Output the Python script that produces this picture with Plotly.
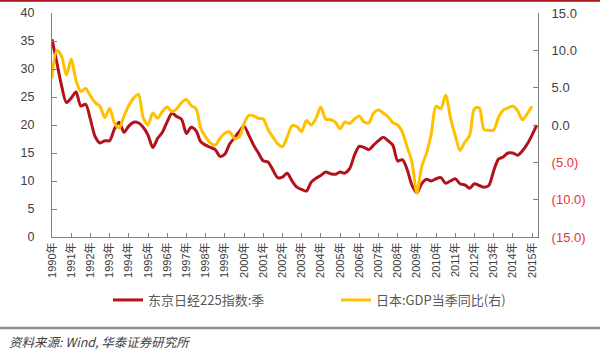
import plotly.graph_objects as go

# ---- data ----
years = list(range(1990, 2016))
year_labels = [f"{y}年" for y in years]

# quarterly positions: 1990Q1 .. 2015Q2 (Nikkei), 1990Q1 .. 2015Q1 (GDP)
nikkei = [
    35.3, 31.2, 27.0, 24.0,
    24.8, 25.9, 23.4, 23.7,
    21.0, 17.9, 16.8, 17.2,
    17.2, 19.3, 20.5, 18.7,
    19.8, 20.5, 20.4, 19.6,
    18.2, 16.0, 17.6, 18.7,
    20.6, 22.1, 21.5, 21.0,
    18.5, 19.6, 19.0, 17.0,
    16.4, 16.0, 15.6, 14.4,
    14.8, 16.6, 17.7, 18.8,
    19.8, 18.2, 16.4, 15.0,
    13.6, 13.4, 12.0, 10.6,
    10.7, 11.4, 10.0, 8.9,
    8.5, 8.2, 9.8, 10.5,
    11.0, 11.6, 11.3, 11.2,
    11.6, 11.4, 12.2, 14.6,
    16.2, 16.0, 15.6, 16.4,
    17.2, 17.8, 17.2, 16.4,
    13.6, 13.8, 12.0, 9.2,
    7.9, 9.5, 10.3, 10.0,
    10.4, 10.6, 9.6, 10.0,
    10.4, 9.5, 9.3, 8.7,
    9.5, 9.2, 8.9, 9.2,
    11.8, 13.9, 14.3, 15.0,
    15.0, 14.6, 15.4, 16.6,
    18.2, 20.0,
]
gdp = [
    6.3, 10.0, 9.2, 6.7,
    8.8, 6.0, 4.5, 4.9,
    3.9, 3.0, 2.5, 1.0,
    2.2, 0.3, -0.4, 1.2,
    2.6, 3.6, 4.1, 1.0,
    0.0, 1.6, 0.9, 1.8,
    2.4, 1.8, 2.2, 3.0,
    3.4, 2.6, 2.2, -0.5,
    -1.6, -2.4, -2.7, -1.8,
    -1.1, -0.9, -1.8, -1.6,
    0.2, 1.3, 1.2, 0.9,
    0.8, -0.6, -1.6, -2.5,
    -2.9, -1.6, -0.1, -0.2,
    -0.9, 0.6, 0.0, 0.9,
    2.4, 0.8, 0.7, 0.4,
    -0.5, 0.4, 0.2, 0.8,
    1.2, 0.4, 0.3, 1.6,
    2.0, 1.6, 1.1, 0.3,
    0.0, -1.0, -3.0, -5.0,
    -9.1, -5.6, -3.8, -1.2,
    2.5, 2.2, 4.0, 1.0,
    -1.4, -3.4, -2.3, -1.4,
    2.2, 2.3, -0.6, -0.7,
    -0.7, 1.0, 2.0, 2.3,
    2.5, 1.9, 0.7, 1.5,
    2.5,
]
x_nikkei = [1990 + i * 0.25 for i in range(len(nikkei))]
x_gdp = [1990 + i * 0.25 for i in range(len(gdp))]

right_vals = [-15, -10, -5, 0, 5, 10, 15]
right_text = ['<span style="color:#E8323A">(15.0)</span>',
              '<span style="color:#E8323A">(10.0)</span>',
              '<span style="color:#E8323A">(5.0)</span>',
              '0.0', '5.0', '10.0', '15.0']

RED = "#B3121B"
GOLD = "#FFC000"
FONT = "Liberation Sans, Arial, Noto Sans CJK SC"

fig = go.Figure()
fig.add_trace(go.Scatter(x=x_nikkei, y=nikkei, mode="lines", name="东京日经225指数:季",
                         line=dict(color=RED, width=3, shape="spline", smoothing=0.8),
                         yaxis="y"))
fig.add_trace(go.Scatter(x=x_gdp, y=gdp, mode="lines", name="日本:GDP当季同比(右)",
                         line=dict(color=GOLD, width=3, shape="spline", smoothing=0.8),
                         yaxis="y2"))

W, H = 600, 358
L, R, T, B = 52, 62, 13, 121
pw = W - L - R
ph = H - T - B

fig.update_layout(
    width=W, height=H,
    margin=dict(l=L, r=R, t=T, b=B, pad=0, autoexpand=False),
    paper_bgcolor="white", plot_bgcolor="white",
    font=dict(family=FONT, size=12, color="#404040"),
    showlegend=True,
    legend=dict(orientation="h", x=(108 - L) / pw, xanchor="left",
                y=(H - B - 300) / ph, yanchor="middle",
                font=dict(family="Noto Sans CJK SC, Liberation Sans", size=13, color="#595959"),
                entrywidth=183, entrywidthmode="pixels",
                bgcolor="rgba(0,0,0,0)"),
    xaxis=dict(range=[1990, 2015.31], tickvals=years, ticktext=year_labels,
               tickangle=-90, ticks="inside", ticklen=4, tickcolor="#808080",
               showline=True, linecolor="#808080", linewidth=1,
               showgrid=False, zeroline=False, automargin=False,
               tickfont=dict(size=11, color="#404040", family=FONT)),
    yaxis=dict(range=[0, 40], dtick=5, tick0=0, ticks="inside", ticklen=5,
               tickcolor="#808080", showline=True, linecolor="#808080", linewidth=1,
               showgrid=False, zeroline=False, ticklabelstandoff=14, automargin=False,
               tickfont=dict(size=12.5, color="#404040", family=FONT)),
    yaxis2=dict(range=[-15, 15], tickvals=right_vals, ticktext=right_text,
                overlaying="y", side="right", ticks="inside", ticklen=5,
                tickcolor="#808080", showline=True, linecolor="#808080", linewidth=1,
                showgrid=False, zeroline=False, ticklabelstandoff=10, automargin=False,
                tickfont=dict(size=13, color="#404040", family=FONT)),
)

# top red rule and bottom gray rule
fig.add_shape(type="line", xref="paper", yref="paper",
              x0=-L / pw, x1=(W - L) / pw, y0=(H - B - 0.8) / ph, y1=(H - B - 0.8) / ph,
              line=dict(color="#A4161C", width=2))
fig.add_shape(type="line", xref="paper", yref="paper",
              x0=-L / pw, x1=(W - L) / pw, y0=(H - B - 328) / ph, y1=(H - B - 328) / ph,
              line=dict(color="#8C8C8C", width=2.5))

fig.add_annotation(text="<i>资料来源: Wind, 华泰证券研究所</i>", xref="paper", yref="paper",
                   x=(7 - L) / pw, y=(H - B - 341) / ph, xanchor="left", yanchor="middle",
                   showarrow=False,
                   font=dict(family="Noto Sans CJK SC", size=12.5, color="#404040"))

fig.write_html("out.html", config={"displayModeBar": False},
               post_script="document.body.style.margin='0';")
